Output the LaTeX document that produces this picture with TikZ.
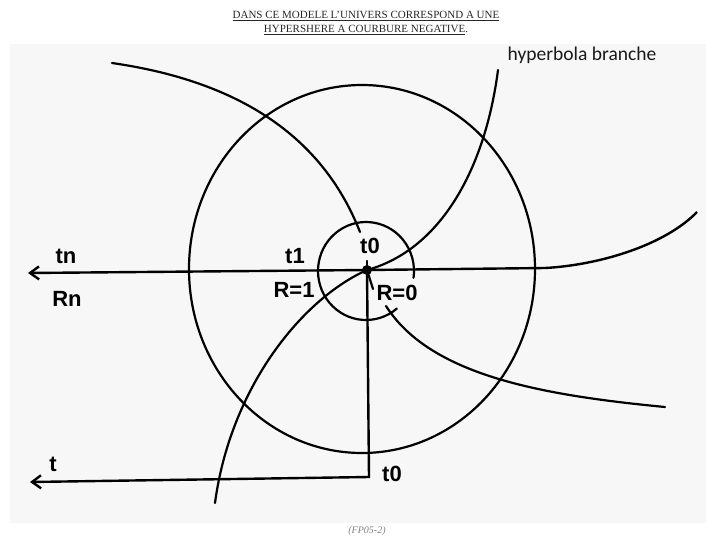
\documentclass[tikz,border=0pt]{standalone}
\usepackage{fontspec}
\setmainfont{Liberation Serif}
\setsansfont{Liberation Sans}
\newfontfamily\calibfont{Carlito}
\usetikzlibrary{arrows.meta}

\begin{document}
\begin{tikzpicture}[
    x=1pt,
    y=-1pt,
    curve/.style={line width=2.2pt, line join=round, line cap=round},
    axis/.style={line width=2.4pt, line join=miter},
    tarrow/.style={{Straight Barb[length=9pt,width=13pt]}-},
    lab/.style={font=\sffamily\bfseries\fontsize{22}{22}\selectfont, inner sep=0pt}
]
\useasboundingbox (0,0) rectangle (709,536);

% Sheet
\fill[black!3] (10,44) rectangle (706,523);

% Title
\node[font=\fontsize{11}{14}\selectfont, align=center, text=black!85] (title) at (366,23)
    {\underline{DANS CE MODELE L'UNIVERS CORRESPOND A UNE}\\
     \underline{HYPERSHERE A COURBURE NEGATIVE}.};
\node[font=\calibfont\fontsize{19.5}{20}\selectfont, anchor=base, text=black!90] (hyp) at (582,60) {hyperbola branche};
\node[font=\itshape\fontsize{10}{10}\selectfont, text=black!50] (ref) at (367,531) {(FP05-2)};

% Origin
\node[fill, circle, minimum size=10pt, inner sep=0pt] (O) at (367,270) {};
\coordinate (tnEnd) at (28,273);
\coordinate (hEnd) at (545,268);
\coordinate (corner) at (369,477);
\coordinate (tEnd) at (30,482);
\coordinate (Rpt) at (373,289);

% Circles
\draw[curve] (362,269) ellipse [x radius=173, y radius=184];
\draw[curve] (366,271) ++(50:48 and 49)
    arc[start angle=50, end angle=368, x radius=48, y radius=49];

% Axes
\draw[axis, tarrow] (tnEnd) -- (O.center) -- (hEnd)
    .. controls (600,265) and (665,245) .. (697,212);
\draw[axis, tarrow] (tEnd) -- (corner) -- (O.center);
\draw[curve] (O.center) -- ++(0,-9);
\draw[curve] (O.center) -- (Rpt);

% Hyperbola branches
\draw[curve] (112,63) .. controls (230,80) and (320,130) .. (360,232);
\draw[curve] (O.center) .. controls (440,250) and (485,170) .. (498,70);
\draw[curve] (O.center) .. controls (300,300) and (230,390) .. (215,503);
\draw[curve] (386,306) .. controls (430,375) and (540,395) .. (665,407);

% Labels
\node[lab] (tn) at (66,256) {tn};
\node[lab] (Rn) at (67,299) {Rn};
\node[lab] (t1) at (295,256) {t1};
\node[lab] (t0up) at (370,246) {t0};
\node[lab] (R1) at (294,290) {R=1};
\node[lab] (R0) at (397,293) {R=0};
\node[lab] (t) at (53,464) {t};
\node[lab] (t0low) at (392,474) {t0};

\end{tikzpicture}
\end{document}
